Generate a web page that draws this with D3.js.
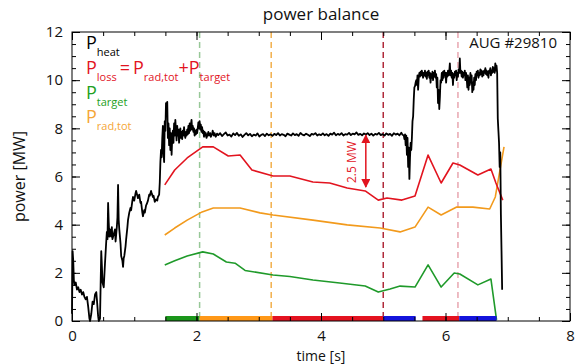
<!DOCTYPE html>
<html>
<head>
<meta charset="utf-8">
<script src="https://cdn.jsdelivr.net/npm/d3@7"></script>
<style>
  body { margin: 0; background: #fff; }
  text { font-family: "Open Sans", sans-serif; }
</style>
</head>
<body>
<div id="chart"></div>
<script>
// ---- data ----
const xTicks = [0, 2, 4, 6, 8];
const yTicks = [0, 2, 4, 6, 8, 10, 12];

// P_heat [t (s), P (MW)]
const pHeat = [
  [0.00,0.3],[0.01,2.9],[0.02,2.5],[0.03,1.7],[0.04,1.5],[0.06,1.6],[0.08,1.3],[0.10,1.4],[0.12,1.2],[0.14,1.3],
  [0.16,1.1],[0.18,1.2],[0.20,1.0],[0.22,0.9],[0.24,1.0],[0.26,0.6],[0.28,0.1],[0.29,0.0],[0.31,0.3],[0.33,0.8],
  [0.35,0.7],[0.37,1.1],[0.39,1.2],[0.40,0.9],[0.42,0.2],[0.43,0.0],[0.45,0.1],[0.46,1.5],[0.47,2.9],[0.48,2.3],
  [0.49,1.6],[0.51,1.4],[0.53,2.4],[0.55,3.3],[0.56,3.7],[0.57,3.4],[0.58,4.9],[0.59,4.1],[0.60,3.5],[0.61,3.8],
  [0.63,3.5],[0.64,3.9],[0.65,3.4],[0.67,3.6],[0.69,3.8],[0.70,3.3],[0.72,3.9],[0.73,4.3],[0.74,5.65],[0.75,4.2],
  [0.76,3.8],[0.78,3.2],[0.79,2.7],[0.81,2.5],[0.82,2.25],[0.83,2.6],[0.84,2.7],[0.86,3.1],[0.87,3.4],[0.89,3.9],
  [0.90,4.2],[0.92,4.5],[0.94,4.7],[0.95,4.6],[0.97,5.0],[0.98,5.15],[1.00,5.0],[1.02,5.3],[1.03,5.4],[1.05,5.2],
  [1.06,5.1],[1.08,5.25],[1.10,4.9],[1.11,4.95],[1.13,4.5],[1.14,4.35],[1.16,4.6],[1.17,4.5],[1.19,4.8],[1.20,4.85],
  [1.22,5.0],[1.24,5.25],[1.25,5.2],[1.27,5.4],[1.28,5.3],[1.30,5.15],[1.31,5.2],[1.33,4.95],[1.35,5.05],[1.37,5.0],
  [1.38,5.15],[1.40,5.25],[1.41,5.75],
  [1.42,6.6],[1.43,7.1],[1.44,6.8],[1.45,7.6],[1.46,8.1],[1.47,7.0],[1.48,6.6],[1.49,8.3],[1.50,7.9],[1.51,9.05],
  [1.52,8.6],[1.53,9.1],[1.54,7.6],[1.55,8.2],[1.56,7.3],[1.57,8.0],[1.58,7.1],[1.59,7.8],[1.60,6.9],[1.61,7.6],
  [1.62,7.9],[1.63,7.4],[1.64,8.2],[1.65,7.7],[1.66,8.35],[1.67,7.9],[1.68,7.5],[1.69,8.1],[1.70,7.7],[1.71,7.95],
  [1.72,7.4],[1.73,7.8],[1.74,8.0],[1.75,7.6],[1.76,7.85],[1.77,7.55],[1.78,7.9],[1.79,7.7],[1.80,8.05],[1.81,7.75],
  [1.82,7.6],[1.83,7.85],[1.84,7.7],[1.85,7.95],[1.86,7.75],[1.87,8.1],[1.88,7.8],[1.89,8.2],[1.90,7.9],[1.91,8.15],
  [1.92,8.35],[1.93,7.95],[1.94,8.1],[1.95,7.85],[1.96,8.0],[1.97,7.7],[1.98,7.9],[1.99,7.75],[2.00,7.95],[2.01,7.8],
  [2.02,8.0],[2.03,8.25],[2.04,8.0],[2.05,8.3],[2.06,7.95],[2.07,8.15],[2.08,7.85],[2.09,8.05],[2.10,7.8],[2.11,7.9],
  [2.12,7.65],[2.13,7.85],[2.14,7.7],[2.15,7.8],[2.16,7.6],[2.18,7.75],[2.19,7.85],[2.20,7.7],[2.22,7.8],[2.23,7.65],
  [2.25,7.75],[2.26,7.9],[2.28,7.7],[2.29,7.8],[2.31,7.65],[2.33,7.78],[2.35,7.72],
  [2.38,7.80],[2.41,7.68],[2.44,7.76],[2.47,7.83],[2.50,7.70],[2.53,7.74],[2.56,7.66],[2.59,7.79],[2.62,7.72],[2.65,7.81],
  [2.68,7.69],[2.71,7.75],[2.74,7.64],[2.77,7.73],[2.80,7.80],[2.83,7.71],[2.86,7.77],[2.89,7.67],[2.92,7.74],[2.95,7.70],
  [2.98,7.79],[3.01,7.66],[3.04,7.73],[3.07,7.76],[3.10,7.68],[3.13,7.78],[3.16,7.71],[3.19,7.75],[3.22,7.69],[3.25,7.77],
  [3.28,7.72],[3.31,7.80],[3.34,7.70],[3.37,7.76],[3.40,7.73],[3.43,7.67],[3.46,7.78],[3.49,7.74],[3.52,7.70],[3.55,7.79],
  [3.58,7.72],[3.61,7.76],[3.64,7.69],[3.67,7.81],[3.70,7.74],[3.73,7.71],[3.76,7.78],[3.79,7.73],[3.82,7.68],[3.85,7.77],
  [3.88,7.74],[3.91,7.80],[3.94,7.70],[3.97,7.75],[4.00,7.72],[4.03,7.79],[4.06,7.71],[4.09,7.76],[4.12,7.69],[4.15,7.78],
  [4.18,7.74],[4.21,7.82],[4.24,7.71],[4.27,7.77],[4.30,7.73],[4.33,7.80],[4.36,7.70],[4.39,7.76],[4.42,7.74],[4.45,7.81],
  [4.48,7.72],[4.51,7.78],[4.54,7.75],[4.57,7.83],[4.60,7.73],[4.63,7.77],[4.66,7.71],[4.69,7.79],[4.72,7.74],[4.75,7.80],
  [4.78,7.72],[4.81,7.78],[4.84,7.70],[4.87,7.77],[4.90,7.74],[4.93,7.81],[4.96,7.72],[4.99,7.76],[5.02,7.70],[5.05,7.79],
  [5.08,7.73],[5.11,7.77],[5.14,7.69],[5.17,7.80],[5.20,7.74],[5.23,7.78],[5.26,7.71],[5.29,7.82],[5.31,7.73],
  [5.33,7.70],[5.34,7.55],[5.35,7.75],[5.36,7.3],[5.37,7.7],[5.38,6.9],[5.39,7.6],[5.40,6.4],[5.41,7.2],[5.42,5.9],
  [5.43,6.8],[5.44,7.4],[5.45,7.1],[5.46,7.6],[5.47,8.3],[5.48,8.5],[5.49,9.2],[5.50,9.7],[5.51,9.75],[5.52,9.9],
  [5.53,10.0],[5.54,9.8],[5.55,10.2],[5.56,9.6],[5.57,10.1],[5.58,10.3],[5.59,10.15],[5.60,10.35],[5.61,10.2],[5.62,10.4],
  [5.63,10.25],[5.64,10.1],[5.65,10.3],[5.66,10.2],[5.67,10.4],[5.68,10.15],[5.69,10.3],[5.70,10.05],[5.71,10.35],[5.72,10.2],
  [5.73,10.4],[5.74,10.1],[5.75,10.3],[5.76,9.9],[5.77,10.25],[5.78,10.1],[5.79,10.35],[5.80,10.0],[5.81,10.3],[5.82,10.15],
  [5.83,10.4],[5.84,10.1],[5.85,10.25],[5.86,9.7],[5.87,10.1],[5.88,9.05],[5.89,9.6],[5.90,8.8],[5.91,9.3],[5.92,10.0],
  [5.93,9.9],[5.94,10.3],[5.95,10.0],[5.96,10.35],[5.97,10.1],[5.98,10.4],[5.99,10.2],[6.00,10.3],[6.01,9.9],[6.02,10.3],
  [6.03,10.15],[6.04,10.4],[6.05,10.2],[6.06,10.35],[6.07,10.7],[6.08,10.2],[6.09,10.4],[6.10,10.1],[6.11,10.3],[6.12,9.8],
  [6.13,10.25],[6.14,10.1],[6.15,10.35],[6.16,10.2],[6.17,10.4],[6.18,10.0],[6.19,10.3],[6.20,10.15],[6.21,10.45],[6.22,10.3],
  [6.23,10.9],[6.24,10.3],[6.25,10.4],[6.26,10.15],[6.27,10.35],[6.28,10.1],[6.29,10.3],[6.30,10.2],[6.31,10.4],[6.32,10.0],
  [6.33,10.3],[6.34,10.1],[6.35,9.7],[6.36,10.2],[6.37,9.6],[6.38,10.1],[6.39,9.8],[6.40,10.3],[6.41,9.9],[6.42,10.2],
  [6.43,9.5],[6.44,9.9],[6.45,9.6],[6.46,10.1],[6.47,9.8],[6.48,10.25],[6.49,10.0],[6.50,10.35],[6.51,10.2],[6.52,10.4],
  [6.53,10.1],[6.54,10.3],[6.55,10.2],[6.56,10.45],[6.57,10.25],[6.58,10.4],[6.59,10.15],[6.60,10.35],[6.61,10.2],[6.62,10.4],
  [6.63,10.3],[6.64,10.5],[6.65,10.25],[6.66,10.4],[6.67,10.2],[6.68,10.35],[6.69,10.1],[6.70,10.4],[6.71,10.3],[6.72,10.5],
  [6.73,10.2],[6.74,10.4],[6.75,10.3],[6.76,10.55],[6.77,10.35],[6.78,10.5],[6.79,10.3],[6.80,10.7],[6.81,10.4],[6.82,10.6],
  [6.83,10.3],[6.84,8.4],[6.85,7.9],[6.86,7.4],[6.87,6.4],[6.88,7.0],[6.89,4.4],[6.90,2.9],[6.91,1.3]
];

// P_loss = P_rad,tot + P_target
const pLoss = [
  [1.49,5.65],[1.65,6.27],[1.85,6.77],[2.10,7.23],[2.27,7.23],[2.51,6.85],[2.70,6.89],[2.89,6.27],[3.23,6.02],
  [3.50,6.02],[3.87,5.77],[4.14,5.73],[4.42,5.52],[4.71,5.40],[4.92,5.02],[5.06,5.11],[5.30,5.02],[5.51,5.19],
  [5.72,6.89],[5.93,5.73],[6.12,6.56],[6.23,6.48],[6.52,6.06],[6.73,6.31],[6.81,5.73],[6.92,5.02]
];

// P_rad,tot
const pRad = [
  [1.49,3.57],[1.65,3.86],[1.85,4.19],[2.09,4.53],[2.27,4.69],[2.70,4.69],[3.02,4.49],[3.23,4.40],[3.87,4.19],
  [4.42,3.99],[4.95,3.86],[5.27,3.70],[5.51,3.90],[5.72,4.73],[5.93,4.40],[6.18,4.73],[6.44,4.73],[6.71,4.65],
  [6.80,5.15],[6.94,7.23]
];

// P_target
const pTarget = [
  [1.49,2.33],[1.65,2.50],[1.85,2.70],[2.10,2.87],[2.27,2.78],[2.48,2.45],[2.62,2.40],[2.78,2.10],[3.23,1.91],
  [3.50,1.85],[3.87,1.70],[4.30,1.58],[4.71,1.45],[4.92,1.20],[5.11,1.33],[5.27,1.45],[5.51,1.41],[5.72,2.33],
  [5.93,1.41],[6.14,1.99],[6.23,1.95],[6.52,1.50],[6.73,1.74],[6.82,0.05]
];

// time markers and phases
const markerTimes = [2.05, 3.2, 5.0, 6.2];
const phaseStart = [1.5, 2.05, 3.22, 5.0, 5.63, 6.22];
const phaseEnd   = [2.05, 3.22, 5.0, 5.52, 6.22, 6.82];

// styles
const markerColors = ["#98c898", "#f2b04c", "#b02a3a", "#e8a6b0"];
const phaseColors = ["#1b961b", "#ff9818", "#e41220", "#1414dc", "#e41220", "#1414dc"];
const RED = "#e2141f", ORANGE = "#f29a1c", GREEN = "#1f9a2a";

// ---- layout ----
const margin = {top: 32, right: 5, bottom: 43, left: 72};
const width = 575 - margin.left - margin.right;
const height = 364 - margin.top - margin.bottom;

const svg = d3.select("#chart").append("svg")
    .attr("width", 575).attr("height", 364);
const g = svg.append("g")
    .attr("transform", `translate(${margin.left},${margin.top})`);

const x = d3.scaleLinear().domain([0, 8]).range([0, width]);
const y = d3.scaleLinear().domain([0, 12]).range([height, 0]);

// dashed time markers
markerTimes.forEach((t, i) => {
  g.append("line")
      .attr("x1", x(t)).attr("x2", x(t))
      .attr("y1", 0).attr("y2", height)
      .attr("stroke", markerColors[i])
      .attr("stroke-width", 1.5)
      .attr("stroke-dasharray", "6,4");
});

const line = d3.line().x(d => x(d[0])).y(d => y(d[1]));

[[pTarget, GREEN], [pRad, ORANGE], [pLoss, RED]].forEach(([data, col]) => {
  g.append("path")
      .datum(data)
      .attr("fill", "none")
      .attr("stroke", col)
      .attr("stroke-width", 1.6)
      .attr("stroke-linejoin", "round")
      .attr("d", line);
});

g.append("path")
    .datum(pHeat)
    .attr("fill", "none")
    .attr("stroke", "#000")
    .attr("stroke-width", 1.8)
    .attr("stroke-linejoin", "round")
    .attr("d", line);

// phase bars along the bottom
phaseStart.forEach((t0, i) => {
  g.append("rect")
      .attr("x", x(t0))
      .attr("y", y(0) - 5)
      .attr("width", x(phaseEnd[i]) - x(t0))
      .attr("height", 5)
      .attr("fill", phaseColors[i]);
});

// 2.5 MW arrow
svg.append("defs").append("marker")
    .attr("id", "head")
    .attr("viewBox", "0 0 10 10")
    .attr("refX", 9).attr("refY", 5)
    .attr("markerWidth", 9).attr("markerHeight", 9)
    .attr("markerUnits", "userSpaceOnUse")
    .attr("orient", "auto-start-reverse")
    .append("path")
    .attr("d", "M0,0L10,5L0,10Z")
    .attr("fill", RED);

g.append("line")
    .attr("x1", x(4.72)).attr("x2", x(4.72))
    .attr("y1", y(7.72)).attr("y2", y(5.56))
    .attr("stroke", RED)
    .attr("stroke-width", 1.5)
    .attr("marker-start", "url(#head)")
    .attr("marker-end", "url(#head)");

g.append("text")
    .attr("transform", `translate(${x(4.5) + 4},${y(6.6)}) rotate(-90)`)
    .attr("text-anchor", "middle")
    .attr("fill", RED)
    .attr("font-size", "12px")
    .text("2.5 MW");

// frame
g.append("rect")
    .attr("width", width).attr("height", height)
    .attr("fill", "none").attr("stroke", "#000").attr("stroke-width", 1);

// axes with inward ticks
function styleAxis(sel) {
  sel.select(".domain").remove();
  sel.selectAll("text").attr("font-size", "15px").attr("fill", "#111")
      .attr("font-family", "Open Sans, sans-serif");
}

g.append("g").attr("transform", `translate(0,${height})`)
    .call(d3.axisBottom(x).tickValues(xTicks).tickSize(-8).tickSizeOuter(0).tickPadding(9.5))
    .call(styleAxis);
g.append("g").attr("transform", `translate(0,${height})`)
    .call(d3.axisBottom(x).ticks(16).tickSize(-4).tickSizeOuter(0).tickFormat(""))
    .call(styleAxis);
g.append("g")
    .call(d3.axisTop(x).tickValues(xTicks).tickSize(-8).tickSizeOuter(0).tickFormat(""))
    .call(styleAxis);
g.append("g")
    .call(d3.axisTop(x).ticks(16).tickSize(-4).tickSizeOuter(0).tickFormat(""))
    .call(styleAxis);

g.append("g")
    .call(d3.axisLeft(y).tickValues(yTicks).tickSize(-8).tickSizeOuter(0).tickPadding(9))
    .call(styleAxis);
g.append("g")
    .call(d3.axisLeft(y).ticks(24).tickSize(-4).tickSizeOuter(0).tickFormat(""))
    .call(styleAxis);
g.append("g").attr("transform", `translate(${width},0)`)
    .call(d3.axisRight(y).tickValues(yTicks).tickSize(-8).tickSizeOuter(0).tickFormat(""))
    .call(styleAxis);
g.append("g").attr("transform", `translate(${width},0)`)
    .call(d3.axisRight(y).ticks(24).tickSize(-4).tickSizeOuter(0).tickFormat(""))
    .call(styleAxis);

// titles
svg.append("text")
    .attr("x", margin.left + width / 2).attr("y", 20)
    .attr("text-anchor", "middle").attr("font-size", "17px").attr("fill", "#111")
    .text("power balance");
svg.append("text")
    .attr("x", margin.left + width / 2).attr("y", 361)
    .attr("text-anchor", "middle").attr("font-size", "14px").attr("fill", "#111")
    .text("time [s]");
svg.append("text")
    .attr("transform", `translate(25,${margin.top + height / 2}) rotate(-90)`)
    .attr("text-anchor", "middle").attr("font-size", "16px").attr("fill", "#111")
    .text("power [MW]");

svg.append("text")
    .attr("x", 557).attr("y", 48)
    .attr("text-anchor", "end").attr("font-size", "15px").attr("fill", "#111")
    .text("AUG #29810");

// legend with subscripts
function addLabel(yPos, color, parts) {
  const t = svg.append("text").attr("x", 86).attr("y", yPos)
      .attr("fill", color).attr("font-size", "18px");
  let sub = false;
  parts.forEach(([s, isSub]) => {
    const span = t.append("tspan").text(s);
    if (isSub && !sub) span.attr("dy", 7);
    if (!isSub && sub) span.attr("dy", -7);
    if (isSub) span.attr("font-size", "11px");
    sub = isSub;
  });
}

addLabel(49, "#000", [["P", false], ["heat", true]]);
addLabel(74, RED, [["P", false], ["loss", true], ["\u2009=\u2009P", false], ["rad,tot", true],
                   ["+P", false], ["target", true]]);
addLabel(99, "#22a022", [["P", false], ["target", true]]);
addLabel(123, "#f5a637", [["P", false], ["rad,tot", true]]);
</script>
</body>
</html>
